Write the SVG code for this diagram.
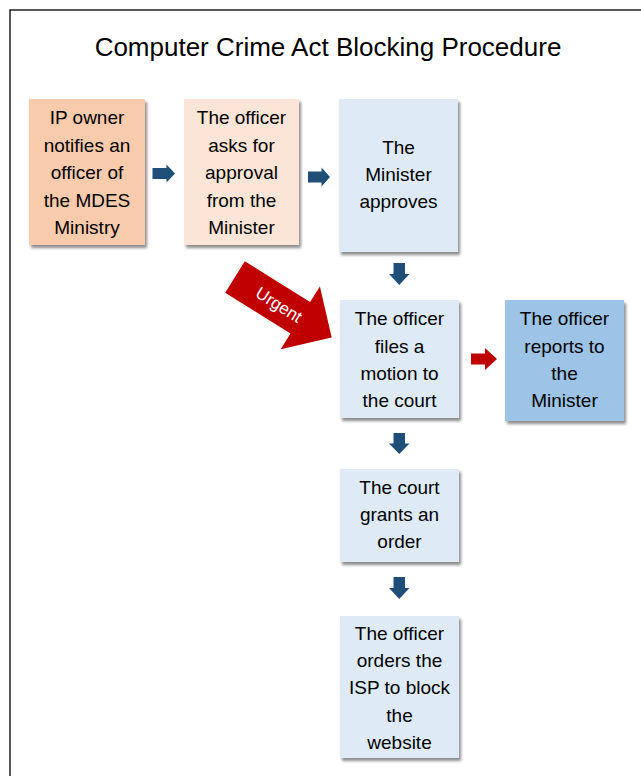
<svg xmlns="http://www.w3.org/2000/svg" width="641" height="776" viewBox="0 0 641 776">
<defs>
<filter id="sh" x="-10%" y="-10%" width="130%" height="130%">
<feDropShadow dx="2" dy="3" stdDeviation="1.5" flood-color="#000" flood-opacity="0.45"/>
</filter>
<style>
.t{font-family:"Liberation Sans",Arial,sans-serif;font-size:19px;fill:#000;text-anchor:middle}
.title{font-family:"Liberation Sans",Arial,sans-serif;font-size:26px;fill:#000;text-anchor:middle}
.b{filter:url(#sh)}
.lb{fill:#DEEBF7}
.blue{fill:#1F4E79}
.red{fill:#C00000}
</style>
</defs>
<rect x="0" y="0" width="641" height="776" fill="#fff"/>
<rect x="10" y="10" width="700" height="800" fill="none" stroke="#222" stroke-width="1.5"/>
<text class="title" x="328" y="56">Computer Crime Act Blocking Procedure</text>

<g id="n1">
<rect class="b" x="29" y="99" width="116" height="146" fill="#F8CBAD"/>
<text class="t" x="87" y="124">IP owner</text>
<text class="t" x="87" y="151.5">notifies an</text>
<text class="t" x="87" y="179">officer of</text>
<text class="t" x="87" y="206.5">the MDES</text>
<text class="t" x="87" y="233.5">Ministry</text>
</g>
<g id="n2">
<rect class="b" x="184" y="99" width="115" height="146" fill="#FBE5D6"/>
<text class="t" x="241.5" y="124">The officer</text>
<text class="t" x="241.5" y="151.5">asks for</text>
<text class="t" x="241.5" y="179">approval</text>
<text class="t" x="241.5" y="206.5">from the</text>
<text class="t" x="241.5" y="233.5">Minister</text>
</g>
<g id="n3">
<rect class="b lb" x="339" y="99" width="119" height="153"/>
<text class="t" x="398.5" y="154">The</text>
<text class="t" x="398.5" y="181">Minister</text>
<text class="t" x="398.5" y="208">approves</text>
</g>
<g id="n4">
<rect class="b lb" x="340" y="300" width="119" height="118"/>
<text class="t" x="399.5" y="325">The officer</text>
<text class="t" x="399.5" y="352.5">files a</text>
<text class="t" x="399.5" y="380">motion to</text>
<text class="t" x="399.5" y="407">the court</text>
</g>
<g id="n5">
<rect class="b" x="505" y="300" width="119" height="121" fill="#9DC3E6"/>
<text class="t" x="564.5" y="325">The officer</text>
<text class="t" x="564.5" y="352.5">reports to</text>
<text class="t" x="564.5" y="380">the</text>
<text class="t" x="564.5" y="407">Minister</text>
</g>
<g id="n6">
<rect class="b lb" x="340" y="469" width="119" height="93"/>
<text class="t" x="399.5" y="494">The court</text>
<text class="t" x="399.5" y="521">grants an</text>
<text class="t" x="399.5" y="548">order</text>
</g>
<g id="n7">
<rect class="b lb" x="340" y="616" width="119" height="142"/>
<text class="t" x="399.5" y="640">The officer</text>
<text class="t" x="399.5" y="667">orders the</text>
<text class="t" x="399.5" y="694">ISP to block</text>
<text class="t" x="399.5" y="722">the</text>
<text class="t" x="399.5" y="749">website</text>
</g>

<g id="connectors">
<polygon class="blue" points="152.5,168 166.5,168 166.5,164.5 175,173.5 166.5,182.5 166.5,179 152.5,179"/>
<polygon class="blue" points="308,171.5 321.5,171.5 321.5,167.5 330,177 321.5,186.5 321.5,182.5 308,182.5"/>
<polygon class="blue" points="393.5,263 405,263 405,274 409.5,274 399.25,285 389,274 393.5,274"/>
<polygon class="blue" points="393.5,433 405,433 405,443.5 409.5,443.5 399.25,454 389,443.5 393.5,443.5"/>
<polygon class="blue" points="393.5,577 405,577 405,588 409.5,588 399.25,599 389,588 393.5,588"/>
<polygon class="red" points="471,353.5 485,353.5 485,348 497,359 485,370 485,364.5 471,364.5"/>
<g transform="translate(235,277) rotate(32)">
<polygon class="red" points="0,-18.5 77,-18.5 77,-37 114,0 77,37 77,18.5 0,18.5"/>
<text x="52" y="6" font-family="'Liberation Sans',Arial,sans-serif" font-size="17" fill="#fff" text-anchor="middle">Urgent</text>
</g>
</g>
</svg>
